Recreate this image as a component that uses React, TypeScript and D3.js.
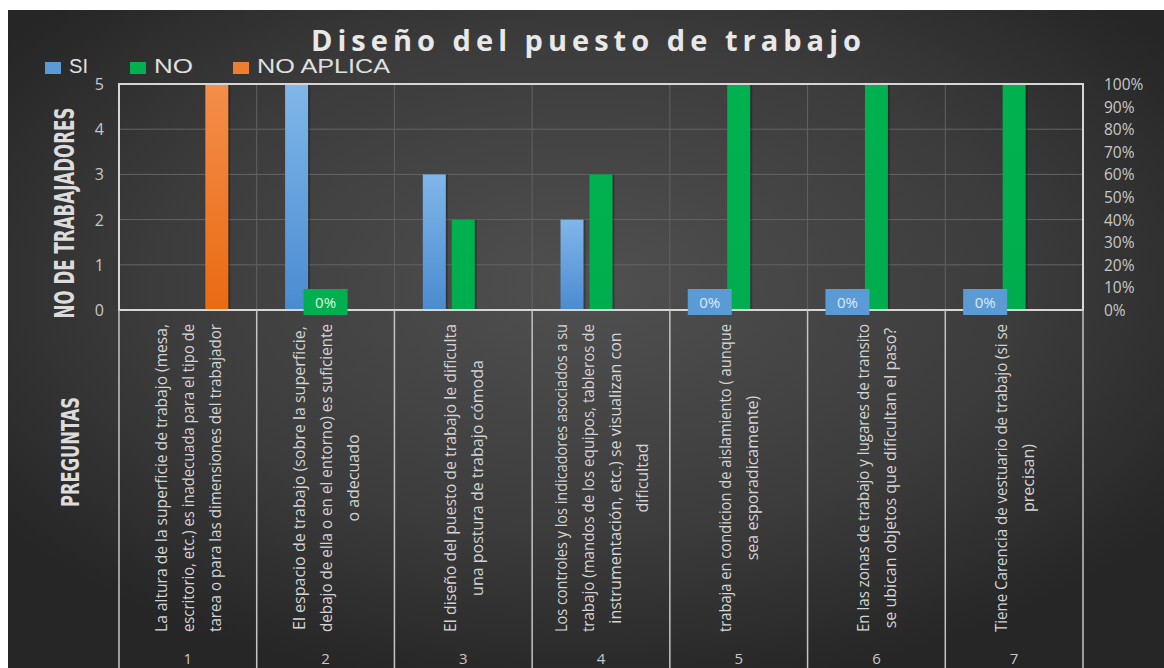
import React, { useLayoutEffect, useRef } from "react";
import * as d3 from "d3";

const categories = ["1", "2", "3", "4", "5", "6", "7"];
const seriesNames = ["SI", "NO", "NO APLICA"];
const siValues = [0, 5, 3, 2, 0, 0, 0];
const noValues = [0, 0, 2, 3, 5, 5, 5];
const noAplicaValues = [5, 0, 0, 0, 0, 0, 0];
const seriesColors = ["#5b9bd5", "#00b050", "#ed7d31"];
const leftTicks = [0, 1, 2, 3, 4, 5];
const rightTicks = [0, 0.1, 0.2, 0.3, 0.4, 0.5, 0.6, 0.7, 0.8, 0.9, 1];
// data labels shown in the chart: [category index, series index]
const zeroLabels: [number, number][] = [[1, 1], [4, 0], [5, 0], [6, 0]];
const questionLines: string[][] = [
  [
    "La altura de la superficie de trabajo (mesa,",
    "escritorio, etc.) es inadecuada para el tipo de",
    "tarea o para las dimensiones del trabajador",
  ],
  [
    "El espacio de trabajo (sobre la superficie,",
    "debajo de ella o en el entorno) es suficiente",
    "o adecuado",
  ],
  [
    "El diseño del puesto  de trabajo le dificulta",
    "una postura de trabajo cómoda",
  ],
  [
    "Los controles y los indicadores asociados a su",
    "trabajo (mandos de los equipos, tableros de",
    "instrumentación, etc.) se visualizan con",
    "dificultad",
  ],
  ["trabaja en condicion de aislamiento ( aunque", "sea esporadicamente)"],
  ["En las zonas de trabajo y lugares de transito", "se ubican objetos  que dificultan el paso?"],
  ["Tiene Carencia de vestuario de trabajo (si se", "precisan)"],
];

const W = 1164;
const H = 668;
const plot = { left: 119, right: 1083, top: 84, bottom: 310 };
const condensed = "'Liberation Sans Narrow', 'DejaVu Sans Condensed', 'Roboto Condensed', 'Liberation Sans', sans-serif";
const sans = "'Open Sans', 'Noto Sans', sans-serif";
const arial = "'Liberation Sans', Arial, sans-serif";

export default function App() {
  const svgRef = useRef<SVGSVGElement>(null);
  const values = [siValues, noValues, noAplicaValues];
  const x = d3.scaleBand<string>().domain(categories).range([plot.left, plot.right]).padding(0);
  const xi = d3
    .scaleBand<string>()
    .domain(seriesNames)
    .range([0, x.bandwidth()])
    .paddingInner(6 / 29)
    .paddingOuter(0.98);
  const y = d3.scaleLinear().domain([0, 5]).range([plot.bottom, plot.top]);
  const y2 = d3.scaleLinear().domain([0, 1]).range([plot.bottom, plot.top]);
  const pct = d3.format(".0%");
  const bw = x.bandwidth();
  const boundaries = categories.map((c) => x(c) as number).concat([plot.right]);
  const labelCenterY = 478;
  const lineGap = 27;
  const maxLine = 308;

  useLayoutEffect(() => {
    const svg = svgRef.current;
    if (!svg) return;
    svg.querySelectorAll<SVGTextElement>("text.q").forEach((t) => {
      const len = t.getComputedTextLength();
      if (len > maxLine) {
        t.setAttribute("textLength", String(maxLine));
        t.setAttribute("lengthAdjust", "spacingAndGlyphs");
      }
    });
  }, []);

  const legendItems = [
    { name: seriesNames[0], x: 45, len: 19 },
    { name: seriesNames[1], x: 130, len: 39 },
    { name: seriesNames[2], x: 233, len: 133 },
  ];

  return (
    <svg
      ref={svgRef}
      width={W}
      height={H}
      style={{ position: "absolute", left: 0, top: 0, background: "#ffffff" }}
    >
      <defs>
        <radialGradient id="bg" cx="50%" cy="42%" r="62%">
          <stop offset="0%" stopColor="#505050" />
          <stop offset="60%" stopColor="#3c3c3c" />
          <stop offset="100%" stopColor="#262626" />
        </radialGradient>
        <linearGradient id="gSI" x1="0" y1="0" x2="0" y2="1">
          <stop offset="0%" stopColor="#80b7ea" />
          <stop offset="100%" stopColor="#4a8bd0" />
        </linearGradient>
        <linearGradient id="gNO" x1="0" y1="0" x2="0" y2="1">
          <stop offset="0%" stopColor="#00b24f" />
          <stop offset="100%" stopColor="#00ad4e" />
        </linearGradient>
        <linearGradient id="gNA" x1="0" y1="0" x2="0" y2="1">
          <stop offset="0%" stopColor="#f48e4a" />
          <stop offset="100%" stopColor="#ea6a12" />
        </linearGradient>
      </defs>
      <rect x={8} y={10} width={W - 8} height={H - 10} fill="url(#bg)" />

      {/* title */}
      <text
        x={586}
        y={51}
        textAnchor="middle"
        fontFamily={sans}
        fontWeight={700}
        fontSize={29}
        fill="#e8e8e8"
        textLength={550}
        lengthAdjust="spacing"
      >
        Diseño del puesto de trabajo
      </text>

      {/* legend */}
      {legendItems.map((l, i) => (
        <g key={l.name}>
          <rect x={l.x} y={62} width={16} height={12} fill={seriesColors[i]} />
          <text
            x={l.x + 24}
            y={73}
            fontFamily={arial}
            fontSize={20}
            fill="#e0e0e0"
            textLength={l.len}
            lengthAdjust="spacingAndGlyphs"
          >
            {l.name}
          </text>
        </g>
      ))}

      {/* horizontal gridlines */}
      {leftTicks.map((t) => (
        <line key={"h" + t} x1={plot.left} x2={plot.right} y1={y(t)} y2={y(t)} stroke="#646464" strokeWidth={1} />
      ))}
      {/* vertical gridlines in plot */}
      {boundaries.map((b, i) => (
        <line key={"v" + i} x1={b} x2={b} y1={plot.top} y2={plot.bottom} stroke="#626262" strokeWidth={1} />
      ))}

      {/* bars */}
      {categories.map((c, ci) =>
        seriesNames.map((s, si) => {
          const v = values[si][ci];
          if (v <= 0) return null;
          const bx = (x(c) as number) + (xi(s) as number);
          return (
            <g key={c + s}>
              <rect x={bx + 2} y={y(v)} width={xi.bandwidth()} height={plot.bottom - y(v)} fill="#000" opacity={0.25} />
              <rect
                x={bx}
                y={y(v)}
                width={xi.bandwidth()}
                height={plot.bottom - y(v)}
                fill={["url(#gSI)", "url(#gNO)", "url(#gNA)"][si]}
              />
            </g>
          );
        })
      )}

      {/* plot border */}
      <rect
        x={plot.left}
        y={plot.top}
        width={plot.right - plot.left}
        height={plot.bottom - plot.top}
        fill="none"
        stroke="#d6d6d6"
        strokeWidth={2}
      />

      {/* category dividers below plot */}
      {boundaries.map((b, i) => (
        <line key={"d" + i} x1={b} x2={b} y1={plot.bottom} y2={H} stroke="#c4c4c4" strokeWidth={1.5} />
      ))}

      {/* zero data labels */}
      {zeroLabels.map(([ci, si]) => {
        const cx = (x(categories[ci]) as number) + (xi(seriesNames[si]) as number) + xi.bandwidth() / 2;
        const v = values[si][ci];
        return (
          <g key={"z" + ci + si}>
            <rect x={cx - 22} y={y(v) - 21} width={44} height={26} fill={seriesColors[si]} />
            <text
              x={cx}
              y={y(v) - 8}
              textAnchor="middle"
              dominantBaseline="central"
              fontFamily={sans}
              fontSize={15}
              fill={si === 0 ? "#dce9f7" : "#dff3e6"}
            >
              {pct(v / 5)}
            </text>
          </g>
        );
      })}

      {/* left ticks */}
      {leftTicks.map((t) => (
        <text
          key={"l" + t}
          x={104}
          y={y(t)}
          textAnchor="end"
          dominantBaseline="central"
          fontFamily={sans}
          fontSize={16}
          fill="#c8c8c8"
        >
          {t}
        </text>
      ))}
      {/* right ticks */}
      {rightTicks.map((t) => (
        <text
          key={"r" + t}
          x={1104}
          y={y2(t)}
          dominantBaseline="central"
          fontFamily={sans}
          fontSize={15.5}
          fill="#c8c8c8"
        >
          {pct(t)}
        </text>
      ))}

      {/* axis titles */}
      <text
        transform={`translate(65,213) rotate(-90)`}
        textAnchor="middle"
        dominantBaseline="central"
        fontFamily={condensed}
        fontWeight={700}
        fontSize={26}
        fill="#dcdcdc"
        textLength={211}
        lengthAdjust="spacingAndGlyphs"
      >
        NO DE TRABAJADORES
      </text>
      <text
        transform={`translate(70,452) rotate(-90)`}
        textAnchor="middle"
        dominantBaseline="central"
        fontFamily={condensed}
        fontWeight={700}
        fontSize={25}
        fill="#dcdcdc"
        textLength={110}
        lengthAdjust="spacingAndGlyphs"
      >
        PREGUNTAS
      </text>

      {/* question labels */}
      {categories.map((c, ci) => {
        const cx = (x(c) as number) + bw / 2;
        const lines = questionLines[ci];
        return (
          <g key={"q" + c}>
            {lines.map((ln, li) => (
              <text
                key={li}
                className="q"
                transform={`translate(${cx + (li - (lines.length - 1) / 2) * lineGap},${labelCenterY}) rotate(-90)`}
                textAnchor="middle"
                dominantBaseline="central"
                fontFamily={sans}
                fontSize={16}
                fill="#d4d4d4"
              >
                {ln}
              </text>
            ))}
            <text x={cx} y={658} textAnchor="middle" dominantBaseline="central" fontFamily={sans} fontSize={15} fill="#c8c8c8">
              {c}
            </text>
          </g>
        );
      })}
    </svg>
  );
}
